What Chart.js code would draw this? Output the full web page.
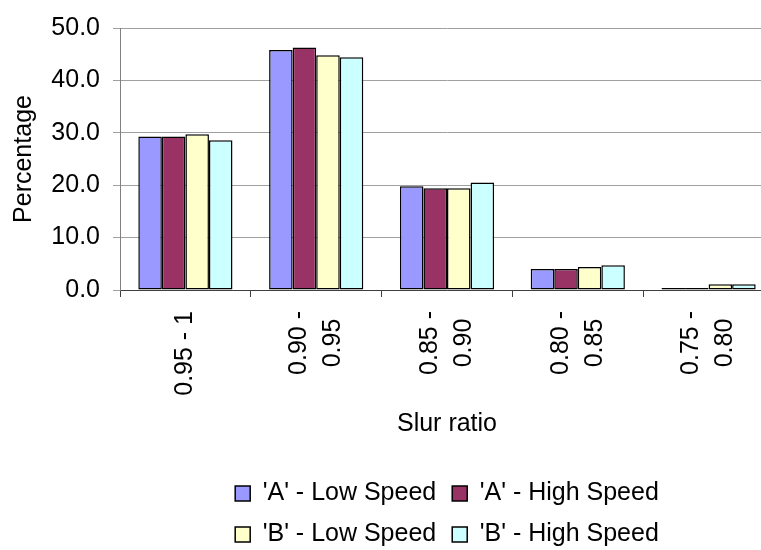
<!DOCTYPE html>
<html>
<head>
<meta charset="utf-8">
<script src="https://cdn.jsdelivr.net/npm/chart.js@4/dist/chart.umd.min.js"></script>
<style>
    html, body { margin: 0; padding: 0; background: #fff; overflow: hidden; }
    #chart { display: block; }
</style>
</head>
<body>
<canvas id="chart" width="776" height="550"></canvas>
<script>
// categories (slur ratio bins), one entry per line of the axis label
const categories = [
    ["0.95 - 1"],
    ["0.90 -", "0.95"],
    ["0.85 -", "0.90"],
    ["0.80 -", "0.85"],
    ["0.75 -", "0.80"]
];

const seriesNames = ["'A' - Low Speed", "'A' - High Speed", "'B' - Low Speed", "'B' - High Speed"];

const aLowSpeed  = [29.3, 45.8, 19.8, 4.0, 0.4];
const aHighSpeed = [29.3, 46.3, 19.4, 4.0, 0.4];
const bLowSpeed  = [29.7, 44.8, 19.4, 4.4, 1.1];
const bHighSpeed = [28.6, 44.4, 20.5, 4.7, 1.1];

const yMin = 0;
const yMax = 50;
const yStep = 10;

const fontFamily = '"Liberation Sans", Arial, sans-serif';

// draws the rotated category labels, lines centred on each other
const xLabelPlugin = {
    id: "xLabels",
    afterDraw: function(chart) {
        let scale = chart.scales.x;
        let ctx = chart.ctx;
        ctx.save();
        ctx.font = "25px " + fontFamily;
        ctx.fillStyle = "#000";
        ctx.textAlign = "center";
        ctx.textBaseline = "middle";
        categories.forEach(function(lines, i) {
            let x = scale.getPixelForTick(i);
            let maxW = Math.max.apply(null, lines.map(function(l) { return ctx.measureText(l).width; }));
            ctx.save();
            ctx.translate(x, scale.top + 21 + maxW / 2);
            ctx.rotate(-Math.PI / 2);
            lines.forEach(function(line, j) {
                ctx.fillText(line, 0, (j - (lines.length - 1) / 2) * 34);
            });
            ctx.restore();
        });
        ctx.restore();
    }
};

function makeDataset(label, values, colour) {
    return {
        label: label,
        data: values,
        backgroundColor: colour,
        borderColor: "#000",
        borderWidth: 1.5,
        borderSkipped: false,
        barPercentage: 1.0,
        categoryPercentage: 0.72
    };
}

let ctx = document.getElementById("chart");
let barChart = new Chart(ctx, {
    type: "bar",
    data: {
        labels: categories,
        datasets: [
            makeDataset(seriesNames[0], aLowSpeed, "#9999FF"),
            makeDataset(seriesNames[1], aHighSpeed, "#993366"),
            makeDataset(seriesNames[2], bLowSpeed, "#FFFFCC"),
            makeDataset(seriesNames[3], bHighSpeed, "#CCFFFF")
        ]
    },
    options: {
        responsive: false,
        animation: false,
        layout: {
            padding: { top: 18, right: 2, bottom: -7, left: 0 }
        },
        plugins: {
            tooltip: { enabled: false },
            legend: {
                position: "bottom",
                fullSize: false,
                labels: {
                    font: { family: fontFamily, size: 25 },
                    color: "#000",
                    boxWidth: 15,
                    boxHeight: 15,
                    padding: 16
                }
            }
        },
        scales: {
            x: {
                grid: {
                    offset: true,
                    drawOnChartArea: false,
                    drawTicks: true,
                    tickLength: 7,
                    color: "#404040"
                },
                border: { color: "#404040", width: 1 },
                ticks: { display: false },
                title: {
                    display: true,
                    text: "Slur ratio",
                    color: "#000",
                    font: { family: fontFamily, size: 25 },
                    padding: { top: 0, bottom: 26 }
                },
                afterFit: function(scale) { scale.height = 175; }
            },
            y: {
                min: yMin,
                max: yMax,
                grid: {
                    color: "#a0a0a0",
                    tickLength: 7
                },
                border: { color: "#808080", width: 1 },
                ticks: {
                    stepSize: yStep,
                    padding: 13,
                    color: "#000",
                    font: { family: fontFamily, size: 25 },
                    callback: function(value) { return value.toFixed(1); }
                },
                title: {
                    display: true,
                    text: "Percentage",
                    color: "#000",
                    font: { family: fontFamily, size: 25 },
                    padding: { top: 9, bottom: 0 }
                },
                afterFit: function(scale) { scale.width = 120; }
            }
        }
    },
    plugins: [xLabelPlugin]
});
</script>
</body>
</html>
